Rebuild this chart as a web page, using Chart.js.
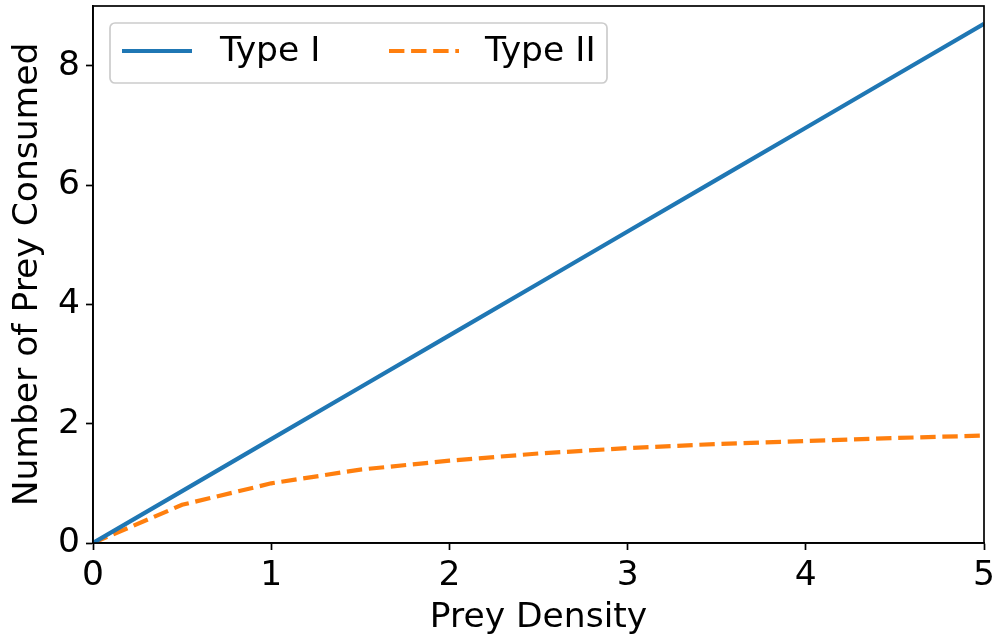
<!DOCTYPE html>
<html>
<head>
<meta charset="utf-8">
<script src="https://cdn.jsdelivr.net/npm/chart.js@4/dist/chart.umd.min.js"></script>
<style>
  html, body { margin: 0; padding: 0; background: #fff; }
  canvas { display: block; }
</style>
</head>
<body>
<canvas id="resposta" width="997" height="640"></canvas>
<script>
  // densidade de presas (eixo x) e presas consumidas por cada resposta funcional
  const preyDensity = [0, 0.5, 1, 1.5, 2, 2.5, 3, 3.5, 4, 4.5, 5];
  const typeI = [0, 0.87, 1.74, 2.61, 3.48, 4.35, 5.22, 6.09, 6.96, 7.83, 8.7];
  const typeII = [0, 0.64, 1.0, 1.23, 1.38, 1.5, 1.59, 1.66, 1.71, 1.76, 1.8];

  const xTicks = [0, 1, 2, 3, 4, 5];
  const yTicks = [0, 2, 4, 6, 8];

  const fonte = { family: 'DejaVu Sans', size: 34.5 };
  const preto = '#000';

  const pontos = (ys) => preyDensity.map((x, i) => ({ x: x, y: ys[i] }));

  const dados = {
    datasets: [{
      label: 'Type I',
      data: pontos(typeI),
      borderColor: '#1f77b4',
      backgroundColor: '#1f77b4',
      borderWidth: 4.2,
      pointRadius: 0,
      tension: 0,
    },
    {
      label: 'Type II',
      data: pontos(typeII),
      borderColor: '#ff7f0e',
      backgroundColor: '#ff7f0e',
      borderWidth: 4.2,
      borderDash: [15.4, 6.7],
      pointRadius: 0,
      tension: 0,
    }]
  };

  // moldura completa em volta da área do gráfico
  const moldura = {
    id: 'moldura',
    afterDatasetsDraw(chart) {
      const a = chart.chartArea;
      const ctx = chart.ctx;
      ctx.save();
      ctx.strokeStyle = preto;
      ctx.lineWidth = 1.7;
      ctx.strokeRect(a.left, a.top, a.right - a.left, a.bottom - a.top);
      ctx.restore();
    }
  };

  // legenda dentro do gráfico, com caixa arredondada
  const legenda = {
    id: 'legenda',
    afterDraw(chart) {
      const a = chart.chartArea;
      const ctx = chart.ctx;
      const x0 = a.left + 17, y0 = a.top + 17;
      const w = 497, h = 60;
      ctx.save();
      ctx.beginPath();
      ctx.roundRect(x0, y0, w, h, 5);
      ctx.fillStyle = 'rgba(255,255,255,0.8)';
      ctx.fill();
      ctx.strokeStyle = '#cccccc';
      ctx.lineWidth = 1.7;
      ctx.stroke();

      const amostras = [{ x: 12, tx: 110 }, { x: 279, tx: 375 }];
      chart.data.datasets.forEach((ds, i) => {
        const s = amostras[i];
        const y = y0 + 28;
        ctx.beginPath();
        ctx.setLineDash(ds.borderDash || []);
        ctx.strokeStyle = ds.borderColor;
        ctx.lineWidth = ds.borderWidth;
        ctx.moveTo(x0 + s.x, y);
        ctx.lineTo(x0 + s.x + 70, y);
        ctx.stroke();
        ctx.setLineDash([]);
        ctx.fillStyle = preto;
        ctx.font = fonte.size + 'px ' + fonte.family;
        ctx.textBaseline = 'middle';
        ctx.textAlign = 'left';
        ctx.fillText(ds.label, x0 + s.tx, y + 1);
      });
      ctx.restore();
    }
  };

  const config = {
    type: 'line',
    data: dados,
    options: {
      responsive: false,
      animation: false,
      layout: { padding: { top: 6, right: 13, left: 0, bottom: 0 } },
      plugins: {
        legend: { display: false },
        tooltip: { enabled: false }
      },
      scales: {
        x: {
          type: 'linear',
          min: 0,
          max: 5,
          afterBuildTicks: (s) => { s.ticks = xTicks.map(v => ({ value: v })); },
          afterFit: (s) => { s.height = 97; s.paddingLeft = 0; s.paddingRight = 0; },
          grid: { drawOnChartArea: false, tickLength: 7, tickWidth: 1.7, tickColor: preto },
          border: { color: preto, width: 1.7 },
          ticks: { color: preto, font: fonte, padding: 5, maxRotation: 0 },
          title: { display: true, text: 'Prey Density', color: preto, font: fonte, padding: { top: 0, bottom: 1 } }
        },
        y: {
          type: 'linear',
          min: 0,
          max: 9,
          afterBuildTicks: (s) => { s.ticks = yTicks.map(v => ({ value: v })); },
          afterFit: (s) => { s.width = 93; s.paddingTop = 0; s.paddingBottom = 0; },
          grid: { drawOnChartArea: false, tickLength: 7, tickWidth: 1.7, tickColor: preto },
          border: { color: preto, width: 1.7 },
          ticks: { color: preto, font: fonte, padding: 6 },
          title: { display: true, text: 'Number of Prey Consumed', color: preto, font: fonte, padding: { top: 7, bottom: 0 } }
        }
      }
    },
    plugins: [moldura, legenda]
  };

  const grafico = new Chart(document.getElementById('resposta'), config);
</script>
</body>
</html>
